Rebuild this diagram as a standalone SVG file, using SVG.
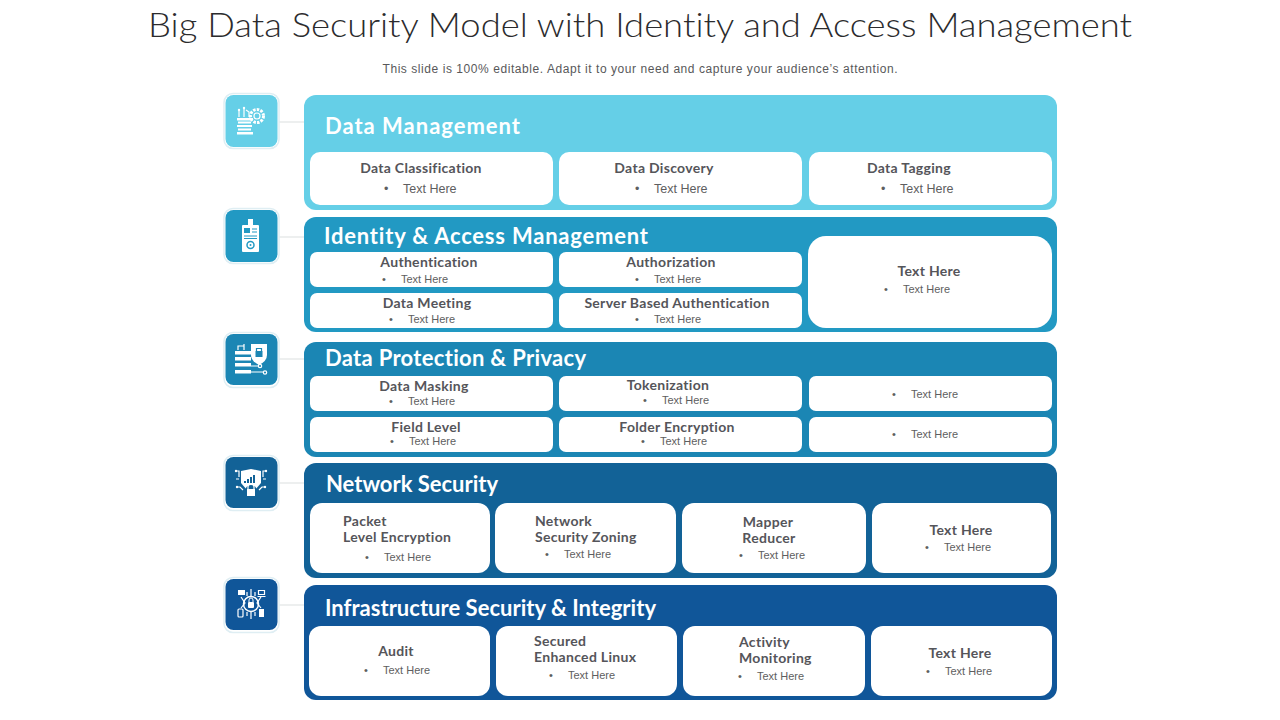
<svg xmlns="http://www.w3.org/2000/svg" width="1280" height="720" viewBox="0 0 1280 720">
<style>
text{font-family:"Lato","Liberation Sans",sans-serif;font-variant-ligatures:none}
.h{font-weight:700;font-size:22px;fill:#fff}
.t{font-weight:700;font-size:14px;fill:#55555a;text-anchor:middle;letter-spacing:.3px}
.b{font-family:"Liberation Sans",Arial,sans-serif;font-size:11px;fill:#5e5e60}
.bl{font-size:12.500px}
.c{fill:#fff}
.o{fill:#fff;stroke:#dfeef3;stroke-width:1.5}
.l{stroke:#dcdfe0;stroke-width:1.2;fill:none}
.i{fill:#fff;stroke:none}
.s{fill:none;stroke:#fff;stroke-width:1.2}
</style>
<rect width="1280" height="720" fill="#fff"/>
<text x="640" y="37" text-anchor="middle" font-size="33" fill="#2b2b2d" textLength="984" lengthAdjust="spacingAndGlyphs" style="font-weight:300">Big Data Security Model with Identity and Access Management</text>
<text x="640" y="73" text-anchor="middle" style="font-family:'Liberation Sans',Arial,sans-serif" font-size="12" fill="#58585a" textLength="515">This slide is 100% editable. Adapt it to your need and capture your audience’s attention.</text>
<g id="connectors">
<path class="l" d="M279 122H304M279 237H304M279 359H304M279 483H304M279 605H304"/>
</g>
<g id="node-data-management">
<rect x="304" y="95" width="753" height="115" rx="12" fill="#65cfe7"/>
<text class="h" x="325" y="134" textLength="195">Data Management</text>
<rect class="c" x="310" y="152" width="243" height="53" rx="10"/>
<rect class="c" x="559" y="152" width="243" height="53" rx="10"/>
<rect class="c" x="809" y="152" width="243" height="53" rx="10"/>
<text class="t" x="421" y="173">Data Classification</text><text class="b bl" x="384" y="193">•</text><text class="b bl" x="403" y="193">Text Here</text>
<text class="t" x="664" y="173">Data Discovery</text><text class="b bl" x="635" y="193">•</text><text class="b bl" x="654" y="193">Text Here</text>
<text class="t" x="909" y="173">Data Tagging</text><text class="b bl" x="881" y="193">•</text><text class="b bl" x="900" y="193">Text Here</text>
</g>
<g id="node-identity">
<rect x="304" y="217" width="753" height="115" rx="12" fill="#2299c3"/>
<text class="h" x="324" y="244" textLength="324">Identity &amp; Access Management</text>
<rect class="c" x="310" y="252" width="243" height="35" rx="7"/>
<rect class="c" x="559" y="252" width="243" height="35" rx="7"/>
<rect class="c" x="310" y="293" width="243" height="35" rx="7"/>
<rect class="c" x="559" y="293" width="243" height="35" rx="7"/>
<rect class="c" x="808" y="236" width="244" height="92" rx="18"/>
<text class="t" x="429" y="267">Authentication</text><text class="b" x="382" y="283">•</text><text class="b" x="401" y="283">Text Here</text>
<text class="t" x="671" y="267">Authorization</text><text class="b" x="635" y="283">•</text><text class="b" x="654" y="283">Text Here</text>
<text class="t" x="427" y="308">Data Meeting</text><text class="b" x="389" y="323">•</text><text class="b" x="408" y="323">Text Here</text>
<text class="t" x="677" y="308">Server Based Authentication</text><text class="b" x="635" y="323">•</text><text class="b" x="654" y="323">Text Here</text>
<text class="t" x="929" y="276">Text Here</text><text class="b" x="884" y="293">•</text><text class="b" x="903" y="293">Text Here</text>
</g>
<g id="node-protection">
<rect x="304" y="342" width="753" height="115" rx="12" fill="#1b86b4"/>
<text class="h" x="325" y="366" textLength="261">Data Protection &amp; Privacy</text>
<rect class="c" x="310" y="376" width="243" height="35" rx="7"/>
<rect class="c" x="559" y="376" width="243" height="35" rx="7"/>
<rect class="c" x="809" y="376" width="243" height="35" rx="7"/>
<rect class="c" x="310" y="417" width="243" height="35" rx="7"/>
<rect class="c" x="559" y="417" width="243" height="35" rx="7"/>
<rect class="c" x="809" y="417" width="243" height="35" rx="7"/>
<text class="t" x="424" y="391">Data Masking</text><text class="b" x="389" y="405">•</text><text class="b" x="408" y="405">Text Here</text>
<text class="t" x="668" y="390">Tokenization</text><text class="b" x="643" y="404">•</text><text class="b" x="662" y="404">Text Here</text>
<text class="b" x="892" y="398">•</text><text class="b" x="911" y="398">Text Here</text>
<text class="t" x="426" y="432">Field Level</text><text class="b" x="390" y="445">•</text><text class="b" x="409" y="445">Text Here</text>
<text class="t" x="677" y="432">Folder Encryption</text><text class="b" x="641" y="445">•</text><text class="b" x="660" y="445">Text Here</text>
<text class="b" x="892" y="438">•</text><text class="b" x="911" y="438">Text Here</text>
</g>
<g id="node-network">
<rect x="304" y="463" width="753" height="115" rx="12" fill="#126297"/>
<text class="h" x="326" y="492" textLength="172">Network Security</text>
<rect class="c" x="310" y="503" width="180" height="70" rx="12"/>
<rect class="c" x="495" y="503" width="181" height="70" rx="12"/>
<rect class="c" x="682" y="503" width="184" height="70" rx="12"/>
<rect class="c" x="872" y="503" width="179" height="70" rx="12"/>
<text class="t" x="343" y="526" style="text-anchor:start">Packet</text><text class="t" x="343" y="542" style="text-anchor:start">Level Encryption</text><text class="b" x="365" y="561">•</text><text class="b" x="384" y="561">Text Here</text>
<text class="t" x="535" y="526" style="text-anchor:start">Network</text><text class="t" x="535" y="542" style="text-anchor:start">Security Zoning</text><text class="b" x="545" y="558">•</text><text class="b" x="564" y="558">Text Here</text>
<text class="t" x="768" y="527">Mapper</text><text class="t" x="769" y="543">Reducer</text><text class="b" x="739" y="559">•</text><text class="b" x="758" y="559">Text Here</text>
<text class="t" x="961" y="535">Text Here</text><text class="b" x="925" y="551">•</text><text class="b" x="944" y="551">Text Here</text>
</g>
<g id="node-infrastructure">
<rect x="304" y="585" width="753" height="115" rx="12" fill="#105699"/>
<text class="h" x="325" y="616" textLength="331">Infrastructure Security &amp; Integrity</text>
<rect class="c" x="309" y="626" width="181" height="70" rx="12"/>
<rect class="c" x="496" y="626" width="181" height="70" rx="12"/>
<rect class="c" x="683" y="626" width="182" height="70" rx="12"/>
<rect class="c" x="871" y="626" width="181" height="70" rx="12"/>
<text class="t" x="396" y="656">Audit</text><text class="b" x="364" y="674">•</text><text class="b" x="383" y="674">Text Here</text>
<text class="t" x="534" y="646" style="text-anchor:start">Secured</text><text class="t" x="534" y="662" style="text-anchor:start">Enhanced Linux</text><text class="b" x="549" y="679">•</text><text class="b" x="568" y="679">Text Here</text>
<text class="t" x="739" y="647" style="text-anchor:start">Activity</text><text class="t" x="739" y="663" style="text-anchor:start">Monitoring</text><text class="b" x="738" y="680">•</text><text class="b" x="757" y="680">Text Here</text>
<text class="t" x="960" y="658">Text Here</text><text class="b" x="926" y="675">•</text><text class="b" x="945" y="675">Text Here</text>
</g>
<g id="icon-1">
<rect class="o" x="224" y="93.500" width="55" height="55" rx="9"/><rect x="225.500" y="95" width="52" height="52" rx="8" fill="#65cfe7"/>
<rect class="i" x="237" y="118" width="16" height="2.500"/><rect class="i" x="238" y="121.500" width="13" height="2"/><rect class="i" x="237" y="125" width="15" height="2"/><rect class="i" x="238" y="128.500" width="13" height="2"/><rect class="i" x="237" y="132" width="16" height="2.500"/>
<path class="s" d="M239 117V111M244 117V109M249 117V112L246 110"/>
<circle class="i" cx="239" cy="110" r="1.200"/><circle class="i" cx="244" cy="108" r="1.200"/>
<circle cx="257" cy="116" r="6.500" fill="none" stroke="#fff" stroke-width="3" stroke-dasharray="2.500 1.200"/><circle cx="257" cy="116" r="3" fill="none" stroke="#fff" stroke-width="1.200"/>
</g>
<g id="icon-2">
<rect class="o" x="224" y="208.500" width="55" height="55" rx="9"/><rect x="225.500" y="210" width="52" height="52" rx="8" fill="#2299c3"/>
<rect class="i" x="242" y="225" width="17" height="27" rx="1"/><rect class="i" x="248" y="219" width="5" height="7"/>
<rect x="244" y="228" width="6" height="5" fill="#2299c3"/><path d="M252 229h5M252 232h5M244 236h13M244 238.500h13" stroke="#2299c3" stroke-width="1"/>
<circle cx="250.500" cy="245" r="3.500" fill="none" stroke="#2299c3" stroke-width="1.500"/><circle cx="250.500" cy="245" r="1" fill="#2299c3"/>
</g>
<g id="icon-3">
<rect class="o" x="224" y="332.500" width="55" height="55" rx="9"/><rect x="225.500" y="334" width="52" height="51" rx="8" fill="#1b86b4"/>
<rect class="i" x="235" y="351" width="16" height="3.500"/><rect class="i" x="235" y="357" width="16" height="3.500"/><rect class="i" x="235" y="363" width="16" height="3.500"/><rect class="i" x="235" y="370" width="16" height="3.500"/>
<path class="s" d="M238 350V346H244M244 350V344M251 366H259M251 372H263"/>
<circle class="s" cx="260" cy="366" r="1.700"/><circle class="s" cx="265" cy="372.500" r="1.700"/>
<path class="i" d="M251 344H267V355Q267 361 259 365Q251 361 251 355Z"/>
<rect x="255.500" y="351" width="7" height="6" fill="#1b86b4"/><path d="M256.500 351V348.500H261.500V351" fill="none" stroke="#1b86b4" stroke-width="1.200"/>
</g>
<g id="icon-4">
<rect class="o" x="224" y="455.500" width="55" height="55" rx="9"/><rect x="225.500" y="457" width="52" height="51" rx="8" fill="#126297"/>
<path class="i" d="M241 471L251 469L261 471V483L255 490H247L241 483Z"/>
<path d="M245 483V481M248 483V479M251 483V477M254 483V475" stroke="#126297" stroke-width="2"/>
<circle cx="251" cy="491" r="6" fill="#126297"/>
<path d="M248 489V487A3 3 0 0 1 254 487V489" fill="none" stroke="#fff" stroke-width="1.200"/><rect class="i" x="247" y="489" width="8" height="7"/>
<path class="s" d="M236 471H239V477M266 471H263V477M236 479H239M266 479H263M237 487H240L243 490M265 487H262L259 490"/>
<circle class="i" cx="236" cy="471" r="1.200"/><circle class="i" cx="266" cy="471" r="1.200"/><circle class="i" cx="237" cy="487" r="1.200"/><circle class="i" cx="265" cy="487" r="1.200"/>
</g>
<g id="icon-5">
<rect class="o" x="224" y="577.500" width="55" height="55" rx="9"/><rect x="225.500" y="579" width="52" height="51" rx="8" fill="#105699"/>
<circle cx="251" cy="604" r="7.500" fill="none" stroke="#fff" stroke-width="1.500"/><rect class="i" x="248" y="602" width="6" height="6" rx="1"/><path d="M249 602V600A2 2 0 0 1 253 600V602" fill="none" stroke="#fff"/>
<rect class="i" x="238" y="590" width="7" height="5"/><path class="s" d="M258.500 590.500h6v4h-6zM257.500 596.500h8"/><rect x="238" y="609" width="5" height="8" rx="1" fill="none" stroke="#fff" stroke-width="1.200"/><rect class="i" x="259" y="609" width="5" height="8"/>
<path class="s" d="M251 589V596M251 612V619M247 592V596M255 592V596M247 616V612M255 616V612M241 597L245 603L241 608M261 597L257 603L261 608"/>
</g>
</svg>
